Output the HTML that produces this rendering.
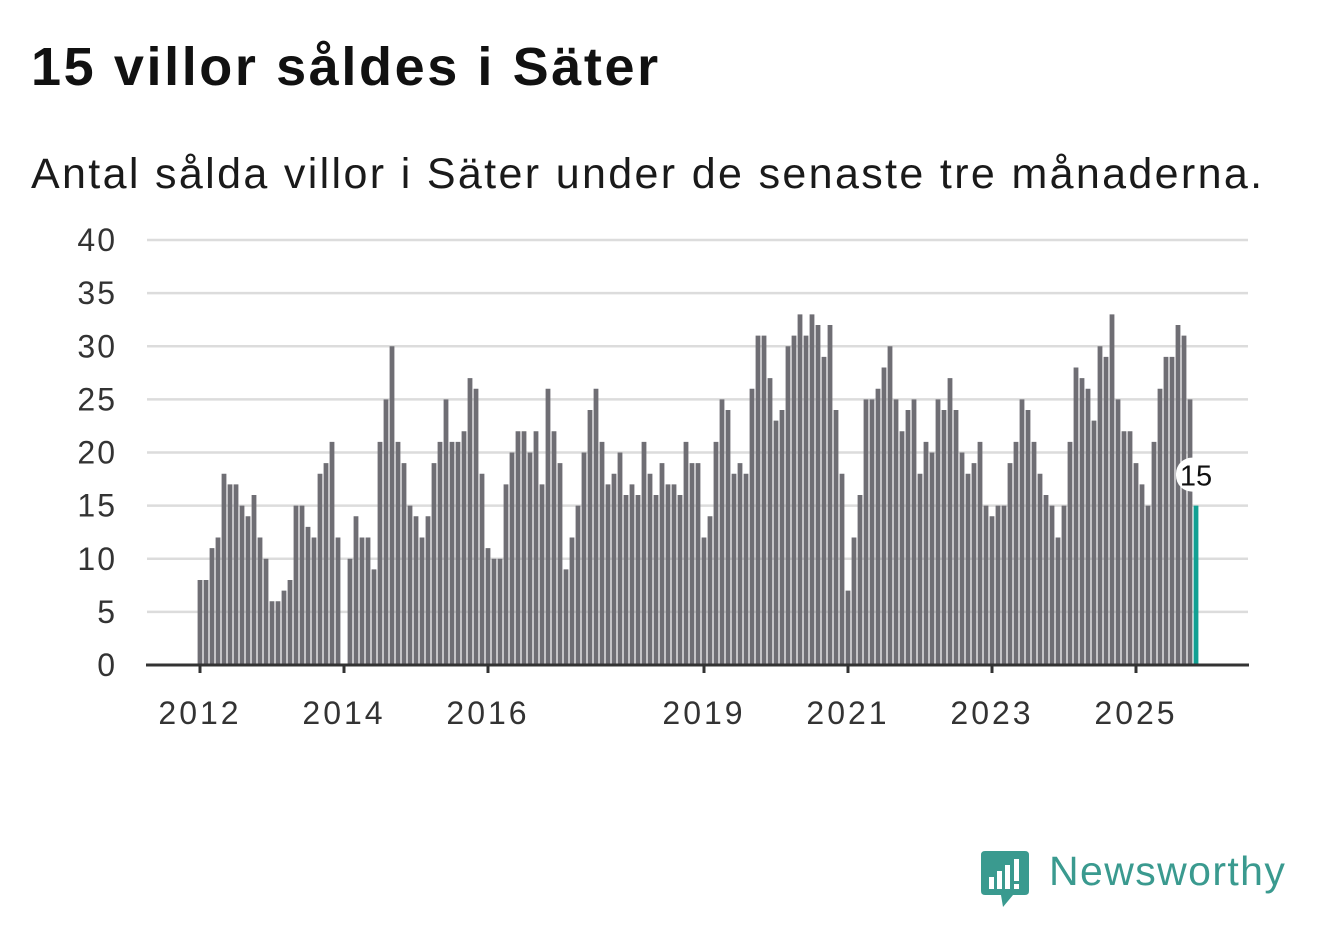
<!DOCTYPE html>
<html><head><meta charset="utf-8"><style>
body{margin:0;width:1322px;height:939px;background:#fff;font-family:"Liberation Sans",sans-serif;position:relative;overflow:hidden}
.t{position:absolute;left:31px;top:36px;font-size:54px;font-weight:bold;color:#111;margin:0;letter-spacing:2.6px}
.s{position:absolute;left:31px;top:150px;font-size:43px;color:#1a1a1a;letter-spacing:2.35px}
.logo{position:absolute;left:1049px;top:848px;font-size:41px;color:#3a9a8f;letter-spacing:1.4px}
</style></head><body>
<h1 class="t">15 villor såldes i Säter</h1>
<div class="s">Antal sålda villor i Säter under de senaste tre månaderna.</div>
<svg width="1322" height="939" style="position:absolute;left:0;top:0" id="chart"></svg>
<div class="logo">Newsworthy</div>
<svg style="position:absolute;left:981px;top:851px" width="50" height="58">
<path d="M0 4 Q0 0 4 0 H44 Q48 0 48 4 V40 Q48 44 44 44 H32 L22 56 L20 44 H4 Q0 44 0 40Z" fill="#3a9a8f"/>
<rect x="8" y="26" width="5" height="12" fill="#fff"/><rect x="16" y="20" width="5" height="18" fill="#fff"/><rect x="24" y="14" width="5" height="24" fill="#fff"/><rect x="33" y="8" width="5" height="22" fill="#fff"/><rect x="33" y="33" width="5" height="5" fill="#fff"/>
</svg>
<script>
const values=[8,8,11,12,18,17,17,15,14,16,12,10,
6,6,7,8,15,15,13,12,18,19,21,12,
0,10,14,12,12,9,21,25,30,21,19,15,
14,12,14,19,21,25,21,21,22,27,26,18,
11,10,10,17,20,22,22,20,22,17,26,22,
19,9,12,15,20,24,26,21,17,18,20,16,
17,16,21,18,16,19,17,17,16,21,19,19,
12,14,21,25,24,18,19,18,26,31,31,27,
23,24,30,31,33,31,33,32,29,32,24,18,
7,12,16,25,25,26,28,30,25,22,24,25,
18,21,20,25,24,27,24,20,18,19,21,15,
14,15,15,19,21,25,24,21,18,16,15,12,
15,21,28,27,26,23,30,29,33,25,22,22,
19,17,15,21,26,29,29,32,31,25,15];
const startYear=2012;
const yTicks=[0,5,10,15,20,25,30,35,40];
const xLabelYears=[2012,2014,2016,2019,2021,2023,2025];
const NS='http://www.w3.org/2000/svg';
const svg=document.getElementById('chart');
const y0=665,pxPerUnit=10.625,x0=200,pxPerMonth=6;
const y=v=>y0-v*pxPerUnit;
const x=i=>x0+i*pxPerMonth;
function mk(t,a){const e=document.createElementNS(NS,t);for(const k in a)e.setAttribute(k,a[k]);svg.appendChild(e);return e;}
yTicks.forEach(v=>{
  if(v>0){const g=mk('line',{x1:147,x2:1248,y1:y(v),y2:y(v),stroke:'#dcdcdc','stroke-width':2.5});
  
  }
  const t=mk('text',{x:117,y:y(v)+11,'text-anchor':'end','font-size':32,'letter-spacing':2,fill:'#333','font-family':'Liberation Sans, sans-serif'});
  t.textContent=v;
  
  
});
values.forEach((v,i)=>{
  if(v<=0)return;
  const last=i===values.length-1;
  const r=mk('rect',{x:x(i)-2.4,y:y(v),width:4.8,height:v*pxPerUnit,fill:last?'#12a093':'#6f6e74'});
  
  
});
const ax=mk('line',{x1:146,x2:1249,y1:y0,y2:y0,stroke:'#333','stroke-width':3});


xLabelYears.forEach(yr=>{
  const xi=x((yr-startYear)*12);
  const tk=mk('line',{x1:xi,x2:xi,y1:y0,y2:y0+8,stroke:'#333','stroke-width':3});
  
  
  const t=mk('text',{x:xi,y:724,'text-anchor':'middle','font-size':32,'letter-spacing':3,fill:'#333','font-family':'Liberation Sans, sans-serif'});
  t.textContent=yr;
  
  
});
const li=values.length-1,lv=values[li];
const bg=mk('rect',{x:x(li)-20,y:y(lv)-48,width:40,height:34,rx:16,fill:'#fff'});


const lt=mk('text',{x:x(li),y:y(lv)-20,'text-anchor':'middle','font-size':29,fill:'#111','font-family':'Liberation Sans, sans-serif'});
lt.textContent=lv;


</script>
</body></html>
